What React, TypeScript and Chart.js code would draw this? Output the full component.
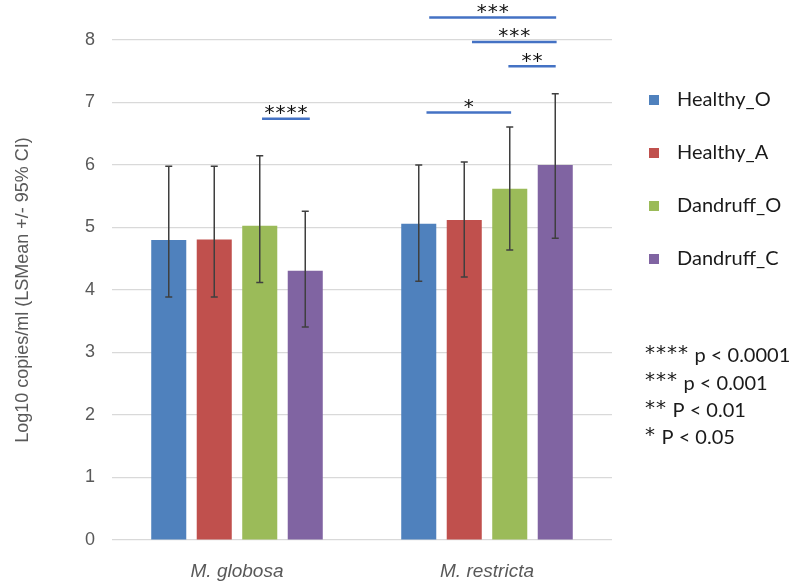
import React, { useEffect, useRef } from "react";
import { Chart, registerables } from "chart.js";

Chart.register(...registerables);

const categories = ["M. globosa", "M. restricta"];
const seriesNames = ["Healthy_O", "Healthy_A", "Dandruff_O", "Dandruff_C"];
const seriesColors = ["#4f81bd", "#c0504d", "#9bbb59", "#8064a2"];

const healthyO = [4.8, 5.06];
const healthyA = [4.81, 5.12];
const dandruffO = [5.03, 5.62];
const dandruffC = [4.31, 6.0];

const healthyOLow = [3.89, 4.14];
const healthyALow = [3.89, 4.21];
const dandruffOLow = [4.12, 4.64];
const dandruffCLow = [3.41, 4.83];

const healthyOHigh = [5.98, 6.0];
const healthyAHigh = [5.98, 6.05];
const dandruffOHigh = [6.15, 6.61];
const dandruffCHigh = [5.26, 7.14];

const yTicks = [0, 1, 2, 3, 4, 5, 6, 7, 8];

// significance brackets: category, from/to series position, y level, label
const bracketCats = [0, 1, 1, 1, 1];
const bracketFrom = [2.05, 0.17, 1.97, 1.17, 0.23];
const bracketTo = [3.1, 2.03, 3.01, 3.03, 3.02];
const bracketY = [6.74, 6.84, 7.58, 7.97, 8.36];
const bracketLabels = ["****", "*", "**", "***", "***"];

const noteStars = ["****", "***", "**", "*"];
const noteTexts = ["p < 0.0001", "p < 0.001", "P < 0.01", "P < 0.05"];

const seriesValues = [healthyO, healthyA, dandruffO, dandruffC];
const seriesLow = [healthyOLow, healthyALow, dandruffOLow, dandruffCLow];
const seriesHigh = [healthyOHigh, healthyAHigh, dandruffOHigh, dandruffCHigh];

const STAR_FONT = "20px 'DejaVu Sans'";
const STAR_SP = 11;

function drawStars(ctx: any, label: string, firstX: number, baseY: number) {
  ctx.font = STAR_FONT;
  ctx.textAlign = "center";
  ctx.textBaseline = "alphabetic";
  for (let t = 0; t < label.length; t++) {
    ctx.fillText(label[t], firstX + t * STAR_SP, baseY);
  }
}

const errorBarPlugin = {
  id: "errorBars",
  afterDatasetsDraw(chart: any) {
    const ctx = chart.ctx;
    const y = chart.scales.y;
    ctx.save();
    ctx.strokeStyle = "#3f3f3f";
    ctx.lineWidth = 1.5;
    seriesValues.forEach((_, i) => {
      const meta = chart.getDatasetMeta(i);
      meta.data.forEach((bar: any, j: number) => {
        const x = bar.x;
        const yl = y.getPixelForValue(seriesLow[i][j]);
        const yh = y.getPixelForValue(seriesHigh[i][j]);
        ctx.beginPath();
        ctx.moveTo(x, yl);
        ctx.lineTo(x, yh);
        ctx.moveTo(x - 3.5, yl);
        ctx.lineTo(x + 3.5, yl);
        ctx.moveTo(x - 3.5, yh);
        ctx.lineTo(x + 3.5, yh);
        ctx.stroke();
      });
    });
    ctx.restore();
  },
};

const annotationPlugin = {
  id: "annotations",
  afterDraw(chart: any) {
    const ctx = chart.ctx;
    const y = chart.scales.y;
    const area = chart.chartArea;
    const m0 = chart.getDatasetMeta(0);
    const m1 = chart.getDatasetMeta(1);
    ctx.save();
    // brackets
    bracketLabels.forEach((label, k) => {
      const c = bracketCats[k];
      const x0 = m0.data[c].x;
      const slot = m1.data[c].x - x0;
      const xa = x0 + bracketFrom[k] * slot;
      const xb = x0 + bracketTo[k] * slot;
      const ly = y.getPixelForValue(bracketY[k]);
      ctx.strokeStyle = "#4472c4";
      ctx.lineWidth = 2.5;
      ctx.beginPath();
      ctx.moveTo(xa, ly);
      ctx.lineTo(xb, ly);
      ctx.stroke();
      const cx = (xa + xb) / 2;
      ctx.fillStyle = "#111111";
      drawStars(ctx, label, cx - ((label.length - 1) * STAR_SP) / 2, ly + 0.5);
    });
    // legend
    ctx.font = "20px Lato";
    ctx.textAlign = "left";
    ctx.textBaseline = "middle";
    seriesNames.forEach((name, i) => {
      const cy = area.top + 60 + i * 53;
      ctx.fillStyle = seriesColors[i];
      ctx.fillRect(area.right + 37, cy - 5, 10, 10);
      ctx.fillStyle = "#1a1a1a";
      ctx.fillText(name, area.right + 65, cy);
    });
    // notes
    noteStars.forEach((stars, i) => {
      const cy = area.top + 316 + i * 27.3;
      const firstX = area.right + 38;
      ctx.fillStyle = "#1a1a1a";
      drawStars(ctx, stars, firstX, cy + 3);
      const textX = firstX + (stars.length - 1) * STAR_SP + 11.5;
      ctx.font = "20px Lato";
      ctx.textAlign = "left";
      ctx.textBaseline = "middle";
      ctx.fillText(noteTexts[i], textX, cy);
    });
    ctx.restore();
  },
};

export default function App() {
  const ref = useRef<HTMLCanvasElement | null>(null);
  useEffect(() => {
    if (!ref.current) return;
    const chart = new Chart(ref.current, {
      type: "bar",
      data: {
        labels: categories,
        datasets: seriesNames.map((name, i) => ({
          label: name,
          data: seriesValues[i],
          backgroundColor: seriesColors[i],
          borderWidth: 0,
          categoryPercentage: 0.728,
          barPercentage: 0.77,
        })),
      },
      options: {
        responsive: false,
        animation: false,
        layout: { padding: { top: 40, right: 188, left: 0, bottom: 0 } },
        plugins: {
          legend: { display: false },
          tooltip: { enabled: false },
        },
        scales: {
          x: {
            grid: { display: false },
            border: { display: false },
            ticks: {
              color: "#595959",
              font: { family: "'Liberation Sans', Arial", size: 19, style: "italic" },
              padding: 12,
            },
            afterFit: (s: any) => {
              s.height = 47;
            },
          },
          y: {
            min: 0,
            max: 8,
            afterBuildTicks: (s: any) => {
              s.ticks = yTicks.map((v) => ({ value: v }));
            },
            grid: { color: "#d9d9d9", lineWidth: 1.2, drawTicks: false },
            border: { display: false },
            ticks: {
              color: "#595959",
              font: { family: "'Liberation Sans', Arial", size: 18 },
              padding: 17,
            },
            title: {
              display: true,
              text: "Log10 copies/ml (LSMean +/- 95% CI)",
              color: "#595959",
              font: { family: "'Liberation Sans', Arial", size: 18 },
              padding: { top: 12, bottom: 0 },
            },
            afterFit: (s: any) => {
              s.width = 112;
            },
          },
        },
      },
      plugins: [errorBarPlugin, annotationPlugin],
    });
    return () => chart.destroy();
  }, []);
  return (
    <div style={{ position: "absolute", left: 0, top: 0, width: 800, height: 587, background: "#fff" }}>
      <canvas ref={ref} width={800} height={587} style={{ display: "block" }} />
    </div>
  );
}
